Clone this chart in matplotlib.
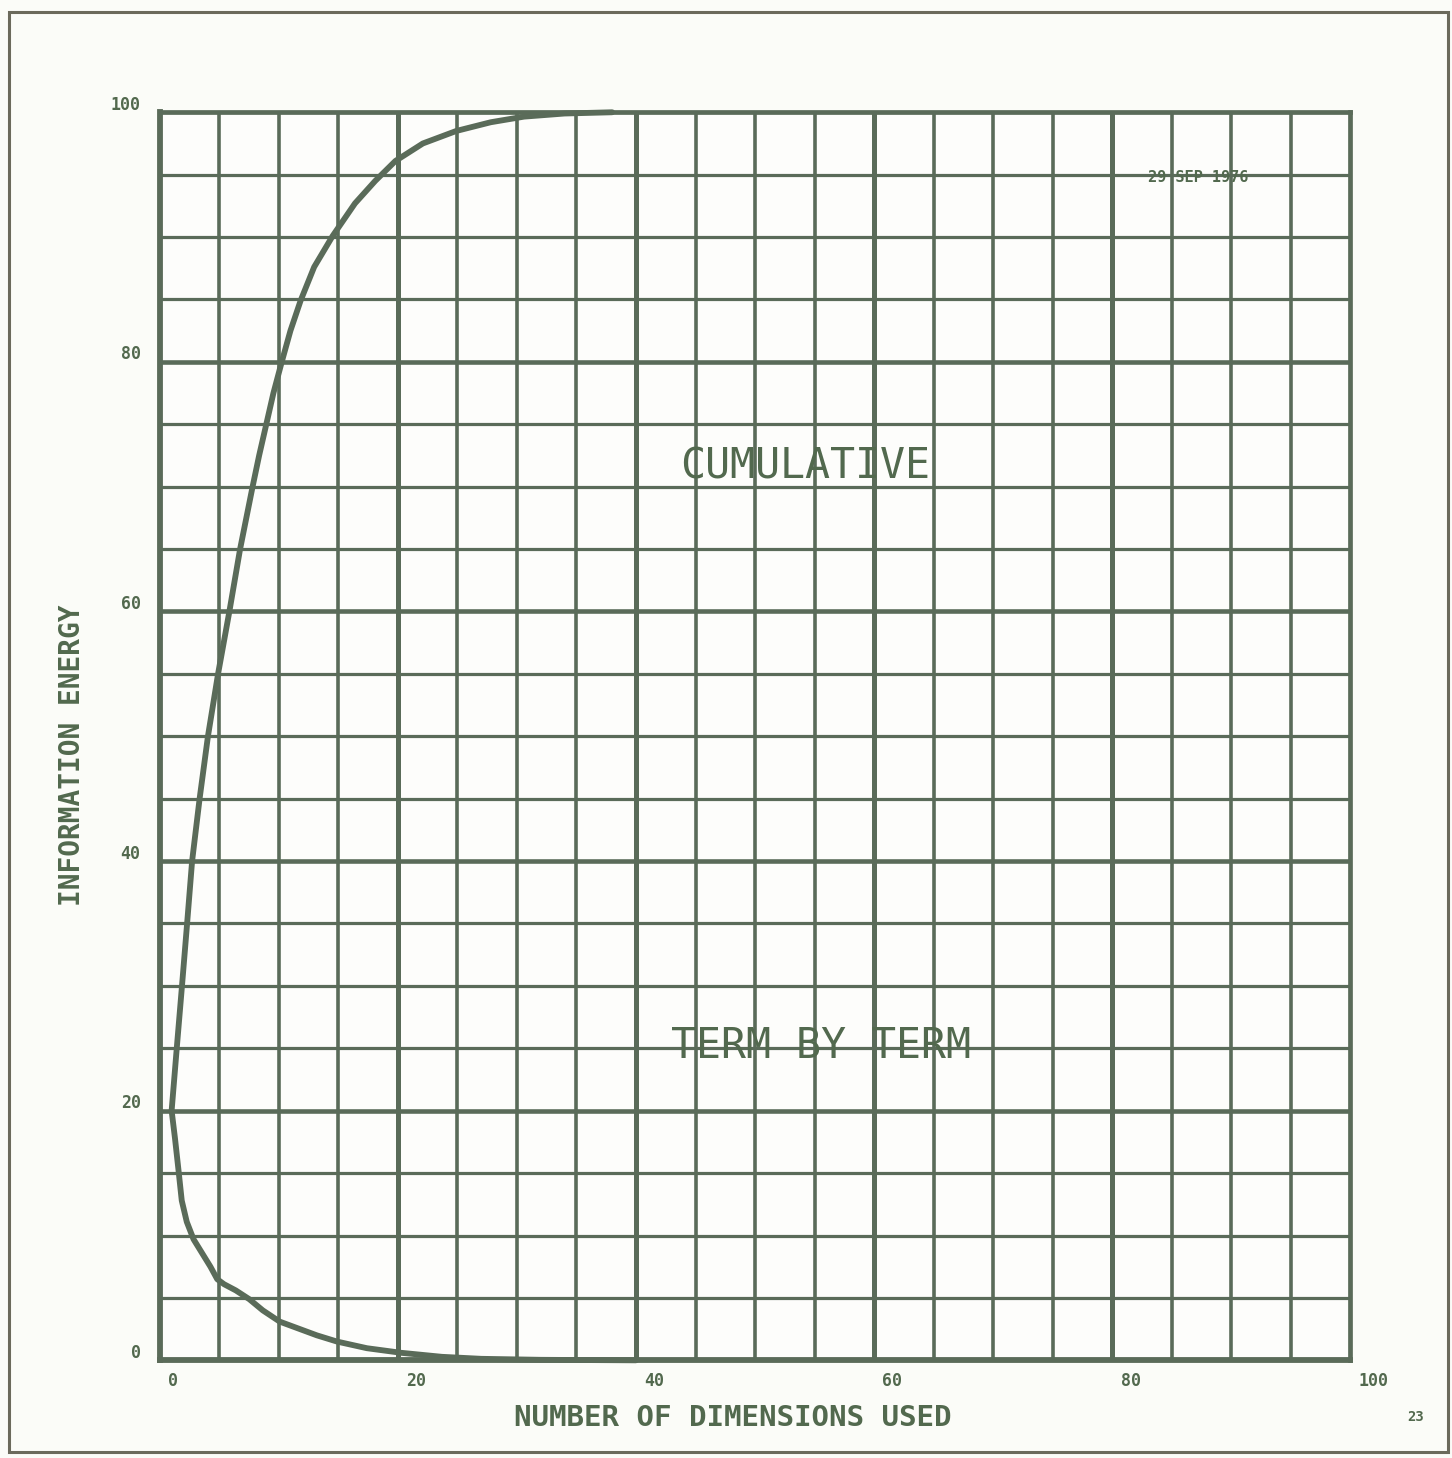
import numpy as np
import matplotlib.pyplot as plt
from matplotlib.patches import Rectangle

# values
cum_x = [1, 1.43, 1.87, 2.3, 2.72, 3.35, 4.05, 4.9, 5.85, 6.75, 7.8,
         8.35, 8.95, 9.55, 10.25, 10.98, 11.83, 12.97, 14.53, 16.4, 18.1,
         19.8, 22.1, 24.9, 27.8, 30.6, 34, 38]
cum_y = [20, 25, 30, 35, 40, 45, 50, 55, 60, 65, 70,
         72.5, 75.0, 77.5, 80.0, 82.5, 84.9, 87.6, 90.1, 92.7, 94.5,
         96.1, 97.5, 98.5, 99.2, 99.65, 99.9, 100]

term_x = [1, 1.28, 1.57, 1.85, 2.27, 2.84, 3.55, 4.26, 4.83, 5.4, 6.39,
          7.52, 8.66, 10.08, 11.78, 13.2, 14.9, 17.4, 20.3, 23.7, 27,
          32, 40]
term_y = [20, 17.8, 15.3, 12.8, 11.1, 9.7, 8.6, 7.5, 6.5, 6.1, 5.6,
          4.9, 4.0, 3.1, 2.5, 2.0, 1.5, 0.97, 0.6, 0.28, 0.12,
          0.04, 0]

x_ticks = [0, 20, 40, 60, 80, 100]
y_ticks = [0, 20, 40, 60, 80, 100]

ink = '#5a6b59'
txt = '#52694e'
mono = 'DejaVu Sans Mono'

fig = plt.figure(figsize=(14.52, 14.58), dpi=100, facecolor='#fbfcf8')
ax = fig.add_axes([0.110, 0.067, 0.820, 0.856])
ax.set_facecolor('#fdfdfb')
ax.set_xlim(0, 100)
ax.set_ylim(0, 100)

# grid: every 5 units, heavier every 20
for v in np.arange(5, 100, 5):
    lw = 3.6 if v % 20 == 0 else 2.6
    ax.axvline(v, color=ink, lw=lw, zorder=1)
    ax.axhline(v, color=ink, lw=lw - 0.3, zorder=1)

for s in ax.spines.values():
    s.set_color(ink)
    s.set_linewidth(3.4)
ax.spines['left'].set_linewidth(4.2)
ax.spines['bottom'].set_linewidth(4.2)
ax.set_xticks([])
ax.set_yticks([])

for xs, ys in [(cum_x, cum_y), (term_x, term_y)]:
    ax.plot(xs, ys, color=ink, lw=4.2, solid_joinstyle='round',
            solid_capstyle='round', zorder=3, clip_on=False)

# tick labels, plotter style
for v in x_ticks:
    ax.text(v + 0.7, -0.9, str(v), ha='left', va='top', fontsize=12,
            fontweight='bold', family=mono, color=txt)
for v in y_ticks:
    ax.text(-1.6, v + 0.6, str(v), ha='right', va='center', fontsize=12,
            fontweight='bold', family=mono, color=txt)

ax.text(-7.4, 48.5, 'INFORMATION ENERGY', rotation=90, ha='center',
        va='center', fontsize=20, fontweight='bold', family=mono, color=txt)
ax.text(48.1, -4.6, 'NUMBER OF DIMENSIONS USED', ha='center', va='center',
        fontsize=21, fontweight='bold', family=mono, color=txt)

ax.text(54.2, 71.6, 'CUMULATIVE', ha='center', va='center', fontsize=30,
        family=mono, color=txt, zorder=4)
ax.text(55.5, 25.2, 'TERM BY TERM', ha='center', va='center', fontsize=30,
        family=mono, color=txt, zorder=4)
ax.text(87.2, 94.8, '29 SEP 1976', ha='center', va='center', fontsize=11,
        fontweight='bold', family=mono, color=txt, zorder=4)

fig.text(0.975, 0.028, '23', ha='center', va='center', fontsize=10,
         fontweight='bold', family=mono, color=txt)

# page border
fig.patches.append(Rectangle((0.006, 0.004), 0.991, 0.988,
                             transform=fig.transFigure, fill=False,
                             edgecolor='#6b6a5c', lw=2.2))

fig.savefig('out.png', dpi=100, facecolor=fig.get_facecolor())
